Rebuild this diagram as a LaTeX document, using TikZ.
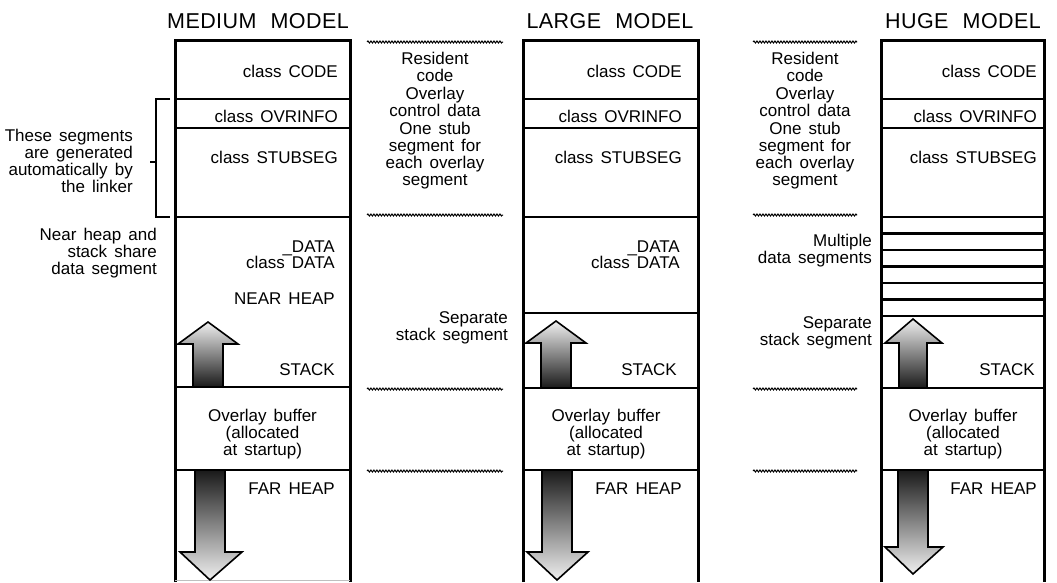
\documentclass[tikz,border=0pt]{standalone}
\usepackage{fontspec}
\setmainfont{Liberation Sans}[WordSpace=1.5]
\newfontfamily\titlefont{Liberation Sans}[LetterSpace=2,WordSpace=2.2]
\usetikzlibrary{decorations.pathmorphing}
\begin{document}
\begin{tikzpicture}[x=1pt,y=-1pt,
  box/.style={line width=3pt},
  seg/.style={line width=2.4pt},
  lbl/.style={font=\fontsize{17}{17}\selectfont, inner sep=0pt},
  rlbl/.style={lbl, anchor=base east},
  blk/.style={lbl, align=center},
  rblk/.style={lbl, align=right, anchor=east},
  ttl/.style={font=\titlefont\fontsize{21.5}{24}\selectfont, inner sep=0pt, anchor=base},
  wavy/.style={decorate, decoration={snake, amplitude=1pt, segment length=3pt}, line width=1pt},
  uparrow/.style={draw, line width=1.6pt, top color=gray!12, bottom color=black!90},
  downarrow/.style={draw, line width=1.6pt, top color=black!90, bottom color=gray!12}]
\useasboundingbox (0,0) rectangle (1057,582);

% ---------------- titles
\node[ttl] (tm) at (258,28) {MEDIUM MODEL};
\node[ttl] (tl) at (610,28) {LARGE MODEL};
\node[ttl] (th) at (963,28) {HUGE MODEL};

% ---------------- MEDIUM model
\draw[box] (175,582) -- (175,40) -- (350,40) -- (350,582);
\foreach \yy in {99,128,217,387,470} \draw[seg] (175,\yy) -- (350,\yy);
\draw[gray!50, line width=0.8pt] (175,580) -- (350,580);
\node[rlbl] (mcode) at (338,77) {class CODE};
\node[rlbl] (movr) at (338,122) {class OVRINFO};
\node[rlbl] (mstub) at (338,163) {class STUBSEG};
\node[rlbl] (mdata1) at (335,252) {\_DATA};
\node[rlbl] (mdata2) at (335,268) {class DATA};
\node[rlbl] (mnear) at (335,304) {NEAR HEAP};
\node[rlbl] (mstack) at (335,375) {STACK};
\node[blk] (mbuf) at (262.5,434) {Overlay buffer\\(allocated\\at startup)};
\node[rlbl] (mfar) at (335,494) {FAR HEAP};
\path[uparrow] (193,387) -- (193,344) -- (178,344) -- (208,322) -- (238,344) -- (223,344) -- (223,387) -- cycle;
\path[downarrow] (195,470) -- (195,552) -- (180,552) -- (210,580) -- (242,552) -- (225,552) -- (225,470) -- cycle;

% bracket and left labels
\draw[line width=2pt] (170,99) -- (156,99) -- (156,217) -- (170,217);
\draw[line width=2.6pt] (150,162) -- (156,162);
\node[rblk] (gen) at (133,161) {These segments\\are generated\\automatically by\\the linker};
\node[rblk] (near) at (157,253) {Near heap and\\stack share\\data segment};

% ---------------- middle column 1
\foreach \yy in {42,215,389,471} \draw[wavy] (367,\yy) -- (503,\yy);
\node[blk] (res1) at (435,67) {Resident\\code};
\node[blk] (ovc1) at (435,102) {Overlay\\control data};
\node[blk] (stb1) at (435,156) {One stub\\segment for\\each overlay\\segment};
\node[rblk] (sep1) at (508,328) {Separate\\stack segment};

% ---------------- LARGE model
\draw[box] (523,582) -- (523,40) -- (698,40) -- (698,582);
\foreach \yy in {99,128,217,313,388,470} \draw[seg] (523,\yy) -- (698,\yy);
\node[rlbl] (lcode) at (682,77) {class CODE};
\node[rlbl] (lovr) at (682,122) {class OVRINFO};
\node[rlbl] (lstub) at (682,163) {class STUBSEG};
\node[rlbl] (ldata1) at (680,252) {\_DATA};
\node[rlbl] (ldata2) at (680,268) {class DATA};
\node[rlbl] (lstack) at (677,375) {STACK};
\node[blk] (lbuf) at (606,434) {Overlay buffer\\(allocated\\at startup)};
\node[rlbl] (lfar) at (682,494) {FAR HEAP};
\path[uparrow] (541,388) -- (541,343) -- (526,343) -- (556,321) -- (586,343) -- (571,343) -- (571,388) -- cycle;
\path[downarrow] (542,470) -- (542,552) -- (527,552) -- (557,580) -- (588,552) -- (572,552) -- (572,470) -- cycle;

% ---------------- middle column 2
\foreach \yy in {42,215,389,471} \draw[wavy] (753,\yy) -- (857,\yy);
\node[blk] (res2) at (805,67) {Resident\\code};
\node[blk] (ovc2) at (805,102) {Overlay\\control data};
\node[blk] (stb2) at (805,156) {One stub\\segment for\\each overlay\\segment};
\node[rblk] (mul) at (872,251) {Multiple\\data segments};
\node[rblk] (sep2) at (872,333) {Separate\\stack segment};

% ---------------- HUGE model
\draw[box] (881,582) -- (881,40) -- (1044,40) -- (1044,582);
\foreach \yy in {99,128,217,233.5,250,266.5,283,299.5,316,388,470} \draw[seg] (881,\yy) -- (1044,\yy);
\node[rlbl] (hcode) at (1037,77) {class CODE};
\node[rlbl] (hovr) at (1037,122) {class OVRINFO};
\node[rlbl] (hstub) at (1037,163) {class STUBSEG};
\node[rlbl] (hstack) at (1035,375) {STACK};
\node[blk] (hbuf) at (963,434) {Overlay buffer\\(allocated\\at startup)};
\node[rlbl] (hfar) at (1037,494) {FAR HEAP};
\path[uparrow] (899,388) -- (899,343) -- (885,343) -- (913,319) -- (942,343) -- (927,343) -- (927,388) -- cycle;
\path[downarrow] (898,470) -- (898,547) -- (885,547) -- (913,574) -- (943,547) -- (928,547) -- (928,470) -- cycle;
\end{tikzpicture}
\end{document}
